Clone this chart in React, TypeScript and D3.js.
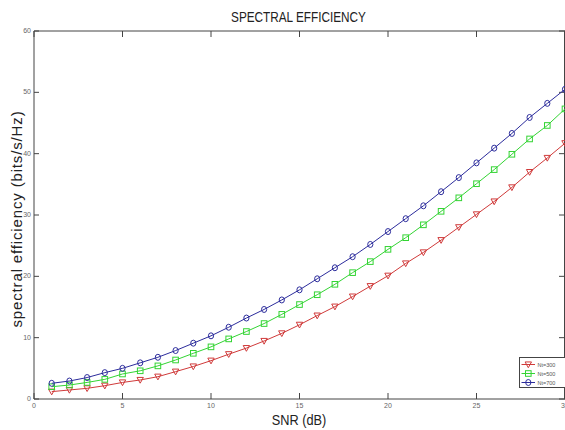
import React from "react";
import * as d3 from "d3";

const snr = [1, 2, 3, 4, 5, 6, 7, 8, 9, 10, 11, 12, 13, 14, 15, 16, 17, 18, 19, 20, 21, 22, 23, 24, 25, 26, 27, 28, 29, 30];
const n300 = [1.2, 1.47, 1.74, 2.17, 2.7, 3.1, 3.64, 4.46, 5.3, 6.25, 7.3, 8.3, 9.46, 10.7, 12.1, 13.6, 15.06, 16.7, 18.4, 20.1, 22.1, 23.9, 25.9, 28.0, 30.1, 32.2, 34.5, 37.0, 39.3, 41.7];
const n500 = [2.0, 2.28, 2.7, 3.2, 4.08, 4.6, 5.4, 6.36, 7.45, 8.5, 9.8, 11.0, 12.3, 13.8, 15.4, 17.0, 18.7, 20.6, 22.4, 24.4, 26.3, 28.4, 30.6, 32.8, 35.1, 37.4, 39.9, 42.4, 44.6, 47.3];
const n700 = [2.56, 2.93, 3.5, 4.3, 5.0, 5.9, 6.8, 7.9, 9.1, 10.3, 11.7, 13.2, 14.6, 16.15, 17.8, 19.6, 21.4, 23.2, 25.2, 27.3, 29.4, 31.5, 33.8, 36.1, 38.5, 40.9, 43.3, 45.9, 48.2, 50.5];
const seriesNames = ["Nt=300", "Nt=500", "Nt=700"];
const xTicks = [0, 5, 10, 15, 20, 25, 30];
const yTicks = [0, 10, 20, 30, 40, 50, 60];

const colors = ["#d03a3a", "#33d433", "#2c2c9c"];
const shapes = ["tri", "sq", "circ"];

const W = 565;
const H = 430;
const left = 34;
const right = 565;
const top = 31;
const bottom = 399;

const x = d3.scaleLinear().domain([0, 30]).range([left, right]);
const y = d3.scaleLinear().domain([0, 60]).range([bottom, top]);

function Marker({ kind, cx, cy, color }: { kind: string; cx: number; cy: number; color: string }) {
  if (kind === "tri") {
    const s = 3.2;
    return <path d={`M${cx - s},${cy - s * 0.8}L${cx + s},${cy - s * 0.8}L${cx},${cy + s}Z`} fill="none" stroke={color} strokeWidth={1} />;
  }
  if (kind === "sq") {
    return <rect x={cx - 2.8} y={cy - 2.8} width={5.6} height={5.6} fill="none" stroke={color} strokeWidth={1} />;
  }
  return <ellipse cx={cx} cy={cy} rx={2.6} ry={3} fill="none" stroke={color} strokeWidth={1} />;
}

export default function App() {
  const series = [n300, n500, n700];
  const line = d3
    .line<number>()
    .x((_, i) => x(snr[i]))
    .y((d) => y(d))
    .curve(d3.curveLinear);
  const axisColor = "#444";
  const tickFont = { fontSize: 7, fill: "#666", fontFamily: "Liberation Sans, Arial, sans-serif" };

  return (
    <svg width={W} height={H} style={{ position: "absolute", left: 0, top: 0, background: "#fff" }}>
      <defs>
        <clipPath id="plot">
          <rect x={left} y={top - 5} width={right - left + 5} height={bottom - top + 5} />
        </clipPath>
      </defs>
      <text
        transform="translate(298.5,22) scale(0.76,1)"
        textAnchor="middle"
        fontSize={15.5}
        fontFamily="Liberation Sans, Arial, sans-serif"
        fill="#222"
      >
        SPECTRAL EFFICIENCY
      </text>

      {/* frame */}
      <line x1={left} x2={right} y1={top} y2={top} stroke={axisColor} />
      <line x1={left} x2={right} y1={bottom} y2={bottom} stroke={axisColor} />
      <line x1={left} x2={left} y1={top} y2={bottom} stroke={axisColor} />
      <line x1={right - 0.5} x2={right - 0.5} y1={top} y2={bottom} stroke={axisColor} />

      {xTicks.map((t) => (
        <g key={"x" + t}>
          <line x1={x(t)} x2={x(t)} y1={bottom} y2={bottom - 6} stroke={axisColor} />
          <line x1={x(t)} x2={x(t)} y1={top} y2={top + 6} stroke={axisColor} />
          <text x={x(t)} y={408} textAnchor="middle" {...tickFont}>
            {t}
          </text>
        </g>
      ))}
      {yTicks.map((t) => (
        <g key={"y" + t}>
          <line x1={left} x2={left + 5} y1={y(t)} y2={y(t)} stroke={axisColor} />
          <line x1={right} x2={right - 6} y1={y(t)} y2={y(t)} stroke={axisColor} />
          <text x={left - 3} y={y(t) + 2} textAnchor="end" {...tickFont}>
            {t}
          </text>
        </g>
      ))}

      <g clipPath="url(#plot)">
        {series.map((s, k) => (
          <g key={k}>
            <path d={line(s) || ""} fill="none" stroke={colors[k]} strokeWidth={1} />
            {s.map((v, i) => (
              <Marker key={i} kind={shapes[k]} cx={x(snr[i])} cy={y(v)} color={colors[k]} />
            ))}
          </g>
        ))}
      </g>

      {/* legend */}
      <rect x={519.5} y={357.5} width={50} height={30} fill="#fff" stroke="#444" strokeWidth={1} />
      {seriesNames.map((name, k) => {
        const ly = 364.5 + k * 9;
        return (
          <g key={name}>
            <line x1={521.5} x2={535} y1={ly} y2={ly} stroke={colors[k]} />
            <Marker kind={shapes[k]} cx={528.3} cy={ly} color={colors[k]} />
            <text x={537.5} y={ly + 2} fontSize={5.5} fill="#555" fontFamily="Liberation Sans, Arial, sans-serif">
              {name}
            </text>
          </g>
        );
      })}

      <text
        transform={`translate(22,219) rotate(-90)`}
        textAnchor="middle"
        fontSize={15}
        letterSpacing={0.85}
        fontFamily="Liberation Sans, Arial, sans-serif"
        fill="#222"
      >
        spectral efficiency (bits/s/Hz)
      </text>
      <text
        transform="translate(299,425) scale(0.88,1)"
        textAnchor="middle"
        fontSize={14.5}
        fontFamily="Liberation Sans, Arial, sans-serif"
        fill="#222"
      >
        SNR (dB)
      </text>
    </svg>
  );
}
